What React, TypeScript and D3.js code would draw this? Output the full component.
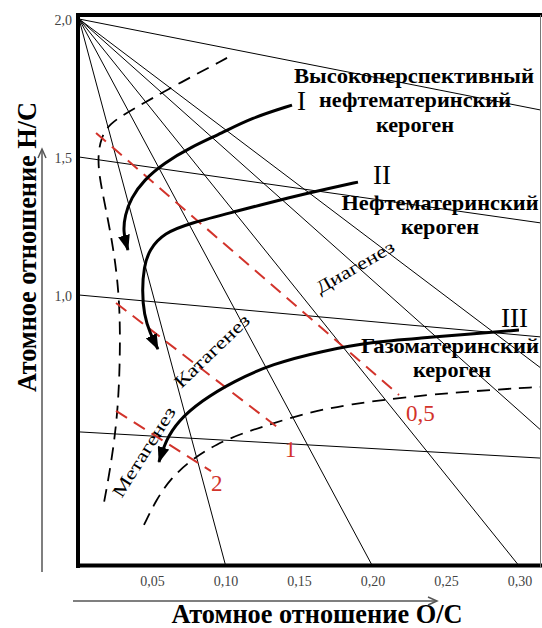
import React from "react";
import * as d3 from "d3";

// ---- chart data (atomic O/C on x, atomic H/C on y) ----
const X_TICKS = [0.05, 0.1, 0.15, 0.2, 0.25, 0.3];
const Y_TICKS = [2.0, 1.5, 1.0];

// fan of straight lines starting at H/C = 2.0
const FAN_ORIGIN: [number, number] = [0, 2.0];
const FAN_ENDS: [number, number][] = [
  [0.3143, 1.67],
  [0.3143, 0.735],
  [0.3143, 0.51],
  [0.3, 0.0145],
  [0.2, 0.0145],
  [0.1, 0.0145],
];

// near-horizontal lines
const FLAT_LINES: [number, number][][] = [
  [[0, 1.5], [0.3143, 1.261]],
  [[0, 1.0], [0.3143, 0.848]],
  [[0, 0.504], [0.3143, 0.409]],
];

// red dashed isolines with labels
const RED_LINES: { label: string; pts: [number, number][]; at: [number, number] }[] = [
  { label: "0,5", pts: [[0.0116, 1.587], [0.2177, 0.638]], at: [0.2224, 0.543] },
  { label: "1", pts: [[0.0252, 0.971], [0.1374, 0.511]], at: [0.14, 0.413] },
  { label: "2", pts: [[0.0252, 0.58], [0.0898, 0.362]], at: [0.0898, 0.29] },
];

// black dashed boundaries
const LEFT_BOUND: [number, number][] = [
  [0.1007, 1.859], [0.066, 1.761], [0.0354, 1.67], [0.0204, 1.62], [0.015, 1.569],
  [0.0129, 1.507], [0.0136, 1.435], [0.0177, 1.326], [0.0224, 1.199], [0.0259, 1.072],
  [0.0279, 0.931], [0.0279, 0.764], [0.0265, 0.583], [0.0224, 0.402], [0.0163, 0.228],
];
const LOWER_BOUND: [number, number][] = [
  [0.0442, 0.167], [0.0524, 0.257], [0.0626, 0.337], [0.0762, 0.402], [0.0932, 0.46],
  [0.1136, 0.504], [0.1313, 0.533], [0.1537, 0.572], [0.185, 0.605], [0.2218, 0.63],
  [0.2667, 0.652], [0.3143, 0.667],
];

// kerogen evolution paths I, II, III
const PATH_I: [number, number][] = [
  [0.1449, 1.688], [0.117, 1.641], [0.0973, 1.587], [0.0762, 1.536], [0.0578, 1.478],
  [0.0442, 1.417], [0.0354, 1.351], [0.0313, 1.29], [0.0299, 1.228], [0.0333, 1.163],
];
const PATH_II: [number, number][] = [
  [0.1898, 1.409], [0.1714, 1.388], [0.1442, 1.355], [0.1054, 1.301], [0.0762, 1.261],
  [0.0578, 1.225], [0.0476, 1.163], [0.0442, 1.101], [0.0429, 1.018], [0.0442, 0.928],
  [0.0483, 0.862], [0.0537, 0.804],
];
const PATH_III: [number, number][] = [
  [0.2993, 0.873], [0.2667, 0.859], [0.2327, 0.844], [0.1993, 0.83], [0.1653, 0.797],
  [0.1313, 0.75], [0.1054, 0.688], [0.083, 0.616], [0.0673, 0.543], [0.0592, 0.475],
  [0.0544, 0.395],
];

const SERIF = "'Liberation Serif', 'Times New Roman', serif";

export default function App() {
  const width = 542;
  const height = 628;
  const x = d3.scaleLinear().domain([0, 0.3143]).range([79, 541]);
  const y = d3.scaleLinear().domain([0.0145, 2.0]).range([567, 19]);

  const straight = d3.line<[number, number]>().x((d) => x(d[0])).y((d) => y(d[1]));
  const smooth = d3
    .line<[number, number]>()
    .x((d) => x(d[0]))
    .y((d) => y(d[1]))
    .curve(d3.curveBasis);

  const fmtX = (v: number) => d3.format(".2f")(v).replace(".", ",");
  const fmtY = (v: number) => d3.format(".1f")(v).replace(".", ",");

  const bold = { fontFamily: SERIF, fontWeight: 700, fontSize: 22 } as const;
  const plain = { fontFamily: SERIF, fontSize: 18 } as const;
  const roman = { fontFamily: SERIF, fontSize: 27 } as const;

  return (
    <svg width={width} height={height} style={{ position: "absolute", left: 0, top: 0, background: "#fff" }}>
      <defs>
        <marker id="arrow" viewBox="0 0 16 12" refX="15" refY="6" markerWidth="16" markerHeight="12"
          markerUnits="userSpaceOnUse" orient="auto">
          <path d="M0,0 L16,6 L0,12 Z" fill="#000" />
        </marker>
        <clipPath id="plot">
          <rect x={78} y={15} width={463} height={552} />
        </clipPath>
      </defs>

      <g clipPath="url(#plot)">
        {/* fan lines */}
        {FAN_ENDS.map((e, i) => (
          <path key={"f" + i} d={straight([FAN_ORIGIN, e]) || ""} stroke="#000" strokeWidth={1} fill="none" />
        ))}
        {FLAT_LINES.map((l, i) => (
          <path key={"h" + i} d={straight(l) || ""} stroke="#000" strokeWidth={1} fill="none" />
        ))}
        {/* dashed boundaries */}
        <path d={smooth(LEFT_BOUND) || ""} stroke="#000" strokeWidth={1.8} fill="none" strokeDasharray="13 8" />
        <path d={smooth(LOWER_BOUND) || ""} stroke="#000" strokeWidth={1.8} fill="none" strokeDasharray="13 8" />
        {/* red isolines */}
        {RED_LINES.map((r, i) => (
          <path key={"r" + i} d={straight(r.pts) || ""} stroke="#d2332b" strokeWidth={2} fill="none" strokeDasharray="13 8" />
        ))}
        {/* evolution paths */}
        {[PATH_I, PATH_II, PATH_III].map((p, i) => (
          <path key={"p" + i} d={smooth(p) || ""} stroke="#000" strokeWidth={3} fill="none" markerEnd="url(#arrow)" />
        ))}
      </g>

      {/* frame */}
      <line x1={78} x2={78} y1={13} y2={568} stroke="#000" strokeWidth={4} />
      <line x1={76} x2={542} y1={15} y2={15} stroke="#000" strokeWidth={4} />
      <line x1={76} x2={542} y1={565.5} y2={565.5} stroke="#000" strokeWidth={4} />
      <line x1={540.5} x2={540.5} y1={15} y2={567} stroke="#777" strokeWidth={1} />

      {/* ticks */}
      {X_TICKS.map((t) => (
        <text key={"xt" + t} x={x(t)} y={586} textAnchor="middle" fill="#444" style={{ fontFamily: SERIF, fontSize: 14 }}>
          {fmtX(t)}
        </text>
      ))}
      {Y_TICKS.map((t) => (
        <text key={"yt" + t} x={72} y={y(t)} dy="0.4em" textAnchor="end" fill="#444" style={{ fontFamily: SERIF, fontSize: 14 }}>
          {fmtY(t)}
        </text>
      ))}

      {/* red labels */}
      {RED_LINES.map((r, i) => (
        <text key={"rl" + i} x={x(r.at[0])} y={y(r.at[1])} fill="#d2332b" style={{ fontFamily: SERIF, fontSize: 23 }}>
          {r.label}
        </text>
      ))}

      {/* kerogen labels */}
      <text x={414} y={83} textAnchor="middle" style={bold} textLength={240} lengthAdjust="spacingAndGlyphs">Высокоперспективный</text>
      <text x={415} y={107} textAnchor="middle" style={bold} textLength={192} lengthAdjust="spacingAndGlyphs">нефтематеринский</text>
      <text x={415} y={132} textAnchor="middle" style={bold} textLength={78} lengthAdjust="spacingAndGlyphs">кероген</text>
      <text x={440} y={210} textAnchor="middle" style={bold} textLength={197} lengthAdjust="spacingAndGlyphs">Нефтематеринский</text>
      <text x={440} y={234} textAnchor="middle" style={bold} textLength={78} lengthAdjust="spacingAndGlyphs">кероген</text>
      <text x={450} y={353} textAnchor="middle" style={bold} textLength={178} lengthAdjust="spacingAndGlyphs">Газоматеринский</text>
      <text x={452} y={377} textAnchor="middle" style={bold} textLength={78} lengthAdjust="spacingAndGlyphs">кероген</text>

      <text x={297} y={110} style={roman}>I</text>
      <text x={373} y={184} style={roman}>II</text>
      <text x={501} y={327} style={roman}>III</text>

      {/* stage labels */}
      <text transform="translate(355,267) rotate(-30)" textAnchor="middle" dominantBaseline="central" style={plain}
        textLength={88} lengthAdjust="spacingAndGlyphs">Диагенез</text>
      <text transform="translate(212,351) rotate(-44)" textAnchor="middle" dominantBaseline="central" style={plain}
        textLength={97} lengthAdjust="spacingAndGlyphs">Катагенез</text>
      <text transform="translate(144,452) rotate(-58)" textAnchor="middle" dominantBaseline="central" style={plain}
        textLength={103} lengthAdjust="spacingAndGlyphs">Метагенез</text>

      {/* axis arrows */}
      <line x1={73} x2={436} y1={601} y2={601} stroke="#555" strokeWidth={1.5} />
      <path d="M428,597 L437,601 L428,605" stroke="#555" strokeWidth={1.5} fill="none" />
      <line x1={42} x2={42} y1={572} y2={150} stroke="#555" strokeWidth={1.5} />
      <path d="M38,158 L42,149 L46,158" stroke="#555" strokeWidth={1.5} fill="none" />

      {/* axis titles */}
      <text x={317} y={623} textAnchor="middle" style={{ fontFamily: SERIF, fontWeight: 700, fontSize: 27 }}
        textLength={291} lengthAdjust="spacingAndGlyphs">Атомное отношение О/С</text>
      <text transform="translate(36,247) rotate(-90)" textAnchor="middle" style={{ fontFamily: SERIF, fontWeight: 700, fontSize: 28 }}
        textLength={290} lengthAdjust="spacingAndGlyphs">Атомное отношение Н/С</text>
    </svg>
  );
}
